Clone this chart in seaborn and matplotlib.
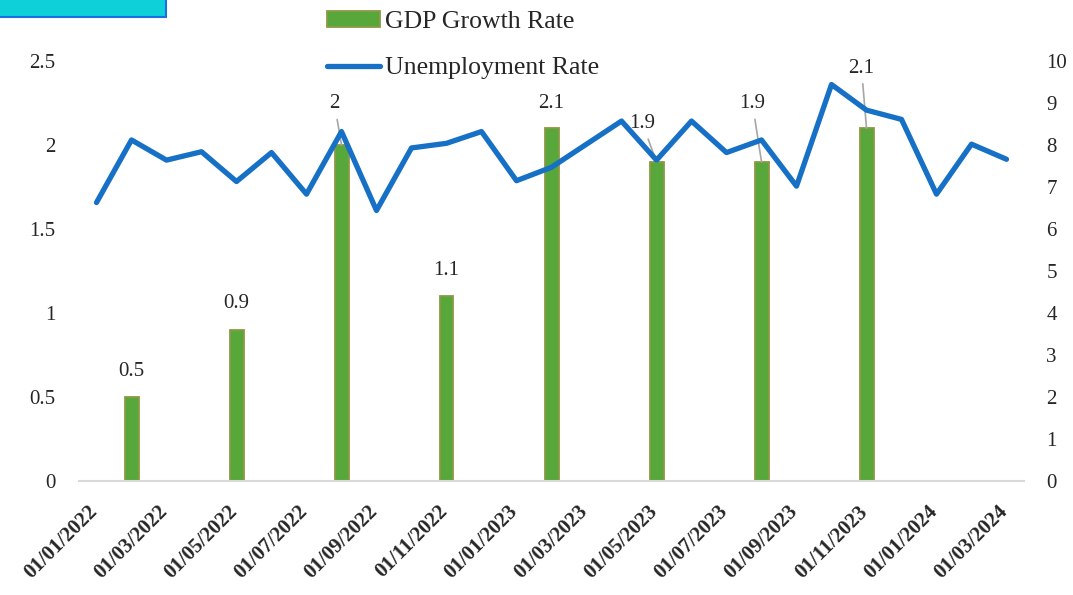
import numpy as np
import pandas as pd
import matplotlib
matplotlib.use("Agg")
import matplotlib.pyplot as plt
import seaborn as sns
from matplotlib.patches import Patch, Rectangle
from matplotlib.lines import Line2D
from matplotlib.ticker import FuncFormatter, FixedLocator

# monthly categories, Jan 2022 .. Mar 2024
months = pd.date_range("2022-01-01", "2024-03-01", freq="MS")
month_labels = [d.strftime("%d/%m/%Y") for d in months]

unemployment = [6.63, 8.12, 7.64, 7.84, 7.13, 7.82, 6.83, 8.32, 6.44, 7.93,
                8.04, 8.32, 7.15, 7.47, 8.02, 8.57, 7.64, 8.57, 7.82, 8.12,
                7.02, 9.44, 8.83, 8.61, 6.83, 8.02, 7.66]

gdp_months = ["01/02/2022", "01/05/2022", "01/08/2022", "01/11/2022",
              "01/02/2023", "01/05/2023", "01/08/2023", "01/11/2023"]
gdp_growth = [0.5, 0.9, 2.0, 1.1, 2.1, 1.9, 1.9, 2.1]

# label offsets in pixels (dx, dy) and whether a leader line is drawn
label_offsets = [(0, 25), (0, 26), (-7, 41), (0, 26), (0, 25), (-14, 38), (-9, 58), (-5, 60)]
label_leader = [False, False, True, False, False, True, True, True]

df = pd.DataFrame({"month": month_labels, "unemployment": unemployment})
gdp_df = pd.DataFrame({"month": gdp_months, "gdp": gdp_growth})
df = df.merge(gdp_df, on="month", how="left")
df["pos"] = np.arange(len(df))

sns.set_style("white")
plt.rcParams["font.family"] = ["Liberation Serif", "DejaVu Serif"]

bar_color = "#58A73B"
bar_edge = "#8C9844"
line_color = "#1570C6"

fig = plt.figure(figsize=(10.73, 5.95), dpi=100)
ax = fig.add_axes([79 / 1073, 1 - 481 / 595, (1024 - 79) / 1073, (481 - 61) / 595])

sns.barplot(data=df, x="month", y="gdp", order=month_labels, ax=ax,
            color=bar_color, width=0.4, edgecolor=bar_edge, linewidth=1.3,
            saturation=1, errorbar=None)

ax2 = ax.twinx()
sns.lineplot(data=df, x="pos", y="unemployment", ax=ax2, color=line_color,
             linewidth=3.8, solid_capstyle="round", solid_joinstyle="round")

ax.set_xlim(-0.5, len(df) - 0.5)
ax.set_ylim(0, 2.5)
ax2.set_ylim(0, 10)
ax.set_xlabel("")
ax.set_ylabel("")
ax2.set_xlabel("")
ax2.set_ylabel("")

ax.set_yticks(np.arange(0, 2.51, 0.5))
ax.yaxis.set_major_formatter(FuncFormatter(lambda v, p: f"{v:g}"))
ax2.set_yticks(np.arange(0, 11, 1))

# labels every second month, nudged slightly left like the original
ax.set_xticks(df["pos"][::2] - 0.25)
ax.set_xticklabels(df["month"][::2], rotation=45, ha="right",
                   rotation_mode="anchor", fontsize=15, fontweight="bold")
ax.xaxis.set_minor_locator(FixedLocator(np.arange(-0.5, len(df) - 1, 2)))
ax.tick_params(axis="x", which="major", length=0, pad=15)
ax.tick_params(axis="x", which="minor", length=7, width=1.3, color="#D9D9D9")
ax.tick_params(axis="y", length=0, pad=17, labelsize=15)
ax2.tick_params(axis="y", length=0, pad=16, labelsize=15)

for a in (ax, ax2):
    for s in ("top", "left", "right"):
        a.spines[s].set_visible(False)
ax.spines["bottom"].set_color("#D9D9D9")
ax.spines["bottom"].set_linewidth(1.5)
ax2.spines["bottom"].set_visible(False)

# data labels for GDP bars
gdp_rows = df.dropna(subset=["gdp"]).reset_index(drop=True)
for i, row in gdp_rows.iterrows():
    dx, dy = label_offsets[i]
    arrow = dict(arrowstyle="-", color="#A6A6A6", lw=1.2, shrinkA=2, shrinkB=0) if label_leader[i] else None
    ax.annotate(f"{row['gdp']:g}", xy=(row["pos"], row["gdp"]),
                xytext=(dx * 0.72, dy * 0.72), textcoords="offset points",
                ha="center", va="center", fontsize=15, arrowprops=arrow, zorder=5)

handles = [Patch(facecolor=bar_color, edgecolor=bar_edge, linewidth=1.3),
           Line2D([0], [0], color=line_color, lw=3.8, solid_capstyle="round")]
fig.legend(handles, ["GDP Growth Rate", "Unemployment Rate"],
           loc="upper left", bbox_to_anchor=(327 / 1073, 1 - 11 / 595),
           frameon=False, fontsize=18.5, handlelength=2.06, handleheight=0.55,
           handletextpad=0.2, labelspacing=0.95, borderpad=0, borderaxespad=0)

# cyan header box clipped at the top-left corner
fig.patches.append(Rectangle((-0.01, 1 - 17 / 595), 0.01 + 166 / 1073, 0.05,
                             transform=fig.transFigure, facecolor="#0DD0D8",
                             edgecolor="#1C6FE0", linewidth=1.5))

fig.savefig("out.png", dpi=100)
